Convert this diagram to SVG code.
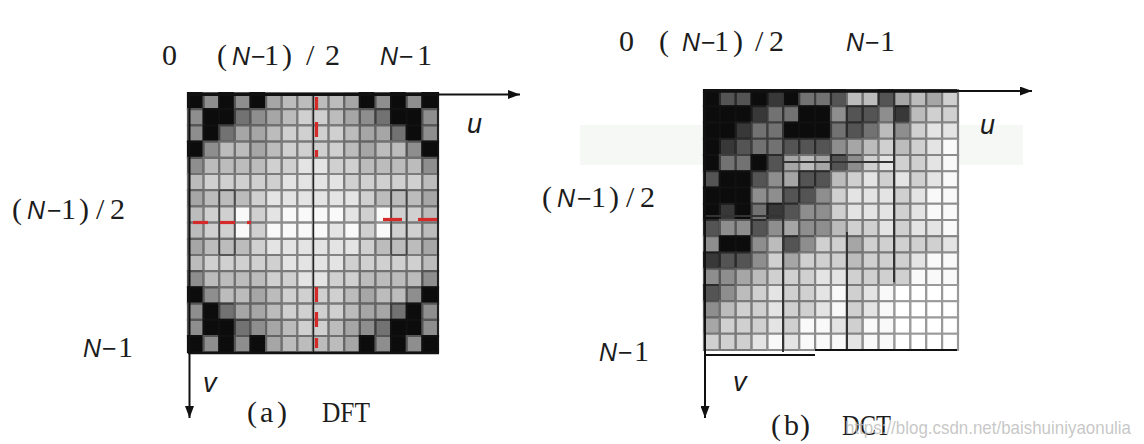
<svg xmlns="http://www.w3.org/2000/svg" width="1144" height="444" viewBox="0 0 1144 444">
<style>
text{font-family:"Liberation Serif","Times New Roman",serif;font-size:30px;fill:#1c1c1c}
.i{font-family:"Liberation Sans",Arial,sans-serif;font-style:italic;font-size:25px}
.s{font-family:"Liberation Sans",Arial,sans-serif;font-size:25px}
.cells rect{width:1px;height:1px;stroke-width:2.2px;vector-effect:non-scaling-stroke;stroke:#777}
.cells .k{fill:#0c0c0c;stroke:#111}
.cells .a{fill:#383838;stroke:#1c1c1c}
.cells .b{fill:#545454;stroke:#2a2a2a}
.cells .c{fill:#727272;stroke:#3e3e3e}
.cells .d{fill:#8e8e8e;stroke:#555}
.cells .e{fill:#a6a6a6;stroke:#646464}
.cells .f{fill:#bcbcbc;stroke:#707070}
.cells .g{fill:#d0d0d0;stroke:#7a7a7a}
.cells .h{fill:#e4e4e4;stroke:#858585}
.cells .w{fill:#f9f9f9;stroke:#8e8e8e}
.cells .z{fill:#fff;stroke:#9a9a9a}
.cells .o{fill:none;stroke:#333;stroke-width:1px}
.ax{stroke:#111;fill:none}
.red{stroke:#d42a2a;stroke-width:3.2}
.blk{stroke:#333;stroke-width:2}
.wm{font-family:"Liberation Sans",Arial,sans-serif;font-size:19px;fill:#bdbdbd;fill-opacity:0.85}
</style>
<defs>
<marker id="arr" markerUnits="userSpaceOnUse" markerWidth="12" markerHeight="9" refX="12" refY="4.5" orient="auto"><path d="M0,0 L12,4.5 L0,9 z" fill="#111"/></marker>
</defs>
<rect width="1144" height="444" fill="#fff"/>
<rect x="580" y="125" width="443" height="40" fill="#f5f8f5"/>

<g id="dft">
<g class="cells" transform="translate(188,93) scale(15.625,16.2)">
<g transform="translate(0,0)"><rect x="0" class="k"/><rect x="1" class="d"/><rect x="2" class="k"/><rect x="3" class="d"/><rect x="4" class="k"/><rect x="5" class="e"/><rect x="6" class="f"/><rect x="7" class="f"/><rect x="8" class="f"/><rect x="9" class="f"/><rect x="10" class="e"/><rect x="11" class="k"/><rect x="12" class="d"/><rect x="13" class="k"/><rect x="14" class="d"/><rect x="15" class="k"/></g>
<g transform="translate(0,1)"><rect x="0" class="d"/><rect x="1" class="k"/><rect x="2" class="k"/><rect x="3" class="c"/><rect x="4" class="d"/><rect x="5" class="e"/><rect x="6" class="f"/><rect x="7" class="g"/><rect x="8" class="g"/><rect x="9" class="f"/><rect x="10" class="e"/><rect x="11" class="d"/><rect x="12" class="c"/><rect x="13" class="k"/><rect x="14" class="k"/><rect x="15" class="d"/></g>
<g transform="translate(0,2)"><rect x="0" class="d"/><rect x="1" class="k"/><rect x="2" class="c"/><rect x="3" class="e"/><rect x="4" class="e"/><rect x="5" class="f"/><rect x="6" class="g"/><rect x="7" class="g"/><rect x="8" class="g"/><rect x="9" class="g"/><rect x="10" class="f"/><rect x="11" class="e"/><rect x="12" class="e"/><rect x="13" class="c"/><rect x="14" class="k"/><rect x="15" class="d"/></g>
<g transform="translate(0,3)"><rect x="0" class="k"/><rect x="1" class="d"/><rect x="2" class="f"/><rect x="3" class="f"/><rect x="4" class="e"/><rect x="5" class="f"/><rect x="6" class="g"/><rect x="7" class="g"/><rect x="8" class="g"/><rect x="9" class="g"/><rect x="10" class="f"/><rect x="11" class="e"/><rect x="12" class="f"/><rect x="13" class="f"/><rect x="14" class="d"/><rect x="15" class="k"/></g>
<g transform="translate(0,4)"><rect x="0" class="d"/><rect x="1" class="f"/><rect x="2" class="f"/><rect x="3" class="f"/><rect x="4" class="f"/><rect x="5" class="g"/><rect x="6" class="g"/><rect x="7" class="h"/><rect x="8" class="h"/><rect x="9" class="g"/><rect x="10" class="g"/><rect x="11" class="f"/><rect x="12" class="f"/><rect x="13" class="f"/><rect x="14" class="f"/><rect x="15" class="d"/></g>
<g transform="translate(0,5)"><rect x="0" class="f"/><rect x="1" class="g"/><rect x="2" class="g"/><rect x="3" class="g"/><rect x="4" class="g"/><rect x="5" class="g"/><rect x="6" class="h"/><rect x="7" class="h"/><rect x="8" class="h"/><rect x="9" class="h"/><rect x="10" class="g"/><rect x="11" class="g"/><rect x="12" class="g"/><rect x="13" class="g"/><rect x="14" class="g"/><rect x="15" class="f"/></g>
<g transform="translate(0,6)"><rect x="0" class="e"/><rect x="1" class="f"/><rect x="2" class="f"/><rect x="3" class="f"/><rect x="4" class="g"/><rect x="5" class="h"/><rect x="6" class="h"/><rect x="7" class="h"/><rect x="8" class="h"/><rect x="9" class="h"/><rect x="10" class="h"/><rect x="11" class="g"/><rect x="12" class="f"/><rect x="13" class="f"/><rect x="14" class="f"/><rect x="15" class="e"/></g>
<g transform="translate(0,7)"><rect x="0" class="f"/><rect x="1" class="g"/><rect x="2" class="g"/><rect x="3" class="w"/><rect x="4" class="g"/><rect x="5" class="h"/><rect x="6" class="w"/><rect x="7" class="w"/><rect x="8" class="w"/><rect x="9" class="w"/><rect x="10" class="h"/><rect x="11" class="g"/><rect x="12" class="w"/><rect x="13" class="g"/><rect x="14" class="g"/><rect x="15" class="f"/></g>
<g transform="translate(0,8)"><rect x="0" class="f"/><rect x="1" class="g"/><rect x="2" class="g"/><rect x="3" class="w"/><rect x="4" class="g"/><rect x="5" class="w"/><rect x="6" class="w"/><rect x="7" class="w"/><rect x="8" class="w"/><rect x="9" class="h"/><rect x="10" class="w"/><rect x="11" class="g"/><rect x="12" class="w"/><rect x="13" class="g"/><rect x="14" class="g"/><rect x="15" class="f"/></g>
<g transform="translate(0,9)"><rect x="0" class="e"/><rect x="1" class="f"/><rect x="2" class="f"/><rect x="3" class="f"/><rect x="4" class="g"/><rect x="5" class="h"/><rect x="6" class="h"/><rect x="7" class="h"/><rect x="8" class="h"/><rect x="9" class="h"/><rect x="10" class="h"/><rect x="11" class="g"/><rect x="12" class="f"/><rect x="13" class="f"/><rect x="14" class="f"/><rect x="15" class="e"/></g>
<g transform="translate(0,10)"><rect x="0" class="f"/><rect x="1" class="g"/><rect x="2" class="g"/><rect x="3" class="g"/><rect x="4" class="g"/><rect x="5" class="g"/><rect x="6" class="h"/><rect x="7" class="h"/><rect x="8" class="h"/><rect x="9" class="h"/><rect x="10" class="g"/><rect x="11" class="g"/><rect x="12" class="g"/><rect x="13" class="g"/><rect x="14" class="g"/><rect x="15" class="f"/></g>
<g transform="translate(0,11)"><rect x="0" class="d"/><rect x="1" class="f"/><rect x="2" class="f"/><rect x="3" class="f"/><rect x="4" class="f"/><rect x="5" class="g"/><rect x="6" class="g"/><rect x="7" class="h"/><rect x="8" class="h"/><rect x="9" class="g"/><rect x="10" class="g"/><rect x="11" class="f"/><rect x="12" class="f"/><rect x="13" class="f"/><rect x="14" class="f"/><rect x="15" class="d"/></g>
<g transform="translate(0,12)"><rect x="0" class="k"/><rect x="1" class="d"/><rect x="2" class="f"/><rect x="3" class="f"/><rect x="4" class="e"/><rect x="5" class="f"/><rect x="6" class="g"/><rect x="7" class="g"/><rect x="8" class="g"/><rect x="9" class="g"/><rect x="10" class="f"/><rect x="11" class="e"/><rect x="12" class="f"/><rect x="13" class="f"/><rect x="14" class="d"/><rect x="15" class="k"/></g>
<g transform="translate(0,13)"><rect x="0" class="d"/><rect x="1" class="k"/><rect x="2" class="c"/><rect x="3" class="e"/><rect x="4" class="e"/><rect x="5" class="f"/><rect x="6" class="g"/><rect x="7" class="g"/><rect x="8" class="g"/><rect x="9" class="g"/><rect x="10" class="f"/><rect x="11" class="e"/><rect x="12" class="e"/><rect x="13" class="c"/><rect x="14" class="k"/><rect x="15" class="d"/></g>
<g transform="translate(0,14)"><rect x="0" class="d"/><rect x="1" class="k"/><rect x="2" class="k"/><rect x="3" class="c"/><rect x="4" class="d"/><rect x="5" class="e"/><rect x="6" class="f"/><rect x="7" class="g"/><rect x="8" class="g"/><rect x="9" class="f"/><rect x="10" class="e"/><rect x="11" class="d"/><rect x="12" class="c"/><rect x="13" class="k"/><rect x="14" class="k"/><rect x="15" class="d"/></g>
<g transform="translate(0,15)"><rect x="0" class="k"/><rect x="1" class="d"/><rect x="2" class="k"/><rect x="3" class="d"/><rect x="4" class="k"/><rect x="5" class="e"/><rect x="6" class="f"/><rect x="7" class="f"/><rect x="8" class="f"/><rect x="9" class="f"/><rect x="10" class="e"/><rect x="11" class="k"/><rect x="12" class="d"/><rect x="13" class="k"/><rect x="14" class="d"/><rect x="15" class="k"/></g>
<rect x="2" y="6" class="o" style="width:1px;height:4px"/>
<rect x="13" y="6" class="o" style="width:1px;height:4px"/>
</g>
<line x1="313.5" y1="93" x2="313.5" y2="352" stroke="#222" stroke-width="1.3"/>
<g id="dft-red-dashes">
<line class="red" x1="316.5" y1="97" x2="316.5" y2="110"/>
<line class="red" x1="316.5" y1="122" x2="316.5" y2="137"/>
<line class="red" x1="316.5" y1="150" x2="316.5" y2="157"/>
<line class="red" x1="316.5" y1="287" x2="316.5" y2="302"/>
<line class="red" x1="316.5" y1="312" x2="316.5" y2="327"/>
<line class="red" x1="316.5" y1="338" x2="316.5" y2="348"/>
<line class="red" x1="193" y1="222.5" x2="208" y2="222.5"/>
<line class="red" x1="220" y1="222.5" x2="235" y2="222.5"/>
<line class="red" x1="247" y1="222.5" x2="251" y2="222.5"/>
<line class="red" x1="383" y1="219.5" x2="402" y2="219.5" stroke-width="4"/>
<line class="red" x1="418" y1="219.5" x2="438" y2="219.5" stroke-width="4"/>
</g>
<g id="dft-axes">
<line class="ax" x1="438" y1="93" x2="438" y2="353" stroke-width="1.5"/>
<line class="ax" x1="188" y1="353" x2="439" y2="353" stroke-width="2.5"/>
<line class="ax" x1="188" y1="94.5" x2="438" y2="94.5" stroke-width="3"/>
<line class="ax" x1="438" y1="94.5" x2="520" y2="94.5" stroke-width="1.8" marker-end="url(#arr)"/>
<line class="ax" x1="189.5" y1="93" x2="189.5" y2="418" stroke-width="2" marker-end="url(#arr)"/>
</g>
<g id="dft-labels">
<text x="162" y="65">0</text>
<text y="65"><tspan x="217">(</tspan><tspan x="232" class="i">N</tspan><tspan x="251" class="s">−</tspan><tspan x="264">1</tspan><tspan x="282">)</tspan><tspan x="306">/</tspan><tspan x="325">2</tspan></text>
<text y="65"><tspan x="380" class="i">N</tspan><tspan x="399" class="s">−</tspan><tspan x="417">1</tspan></text>
<text y="219"><tspan x="12">(</tspan><tspan x="27" class="i">N</tspan><tspan x="47" class="s">−</tspan><tspan x="61">1</tspan><tspan x="79">)</tspan><tspan x="96">/</tspan><tspan x="110">2</tspan></text>
<text y="357"><tspan x="83" class="i">N</tspan><tspan x="102" class="s">−</tspan><tspan x="118">1</tspan></text>
<text x="467" y="133" class="i" style="font-size:27px">u</text>
<text x="203" y="392" class="i" style="font-size:27px">v</text>
<text x="247 260 277" y="422">(a)</text>
<text x="322" y="422" textLength="48" lengthAdjust="spacingAndGlyphs">DFT</text>
</g>
</g>

<g id="dct">
<g class="cells" transform="translate(704,90) scale(15.875,16.25)">
<g transform="translate(0,0)"><rect x="0" class="k"/><rect x="1" class="b"/><rect x="2" class="b"/><rect x="3" class="k"/><rect x="4" class="a"/><rect x="5" class="k"/><rect x="6" class="c"/><rect x="7" class="c"/><rect x="8" class="b"/><rect x="9" class="f"/><rect x="10" class="f"/><rect x="11" class="b"/><rect x="12" class="e"/><rect x="13" class="f"/><rect x="14" class="e"/><rect x="15" class="g"/></g>
<g transform="translate(0,1)"><rect x="0" class="k"/><rect x="1" class="k"/><rect x="2" class="k"/><rect x="3" class="a"/><rect x="4" class="c"/><rect x="5" class="c"/><rect x="6" class="k"/><rect x="7" class="k"/><rect x="8" class="d"/><rect x="9" class="b"/><rect x="10" class="b"/><rect x="11" class="d"/><rect x="12" class="a"/><rect x="13" class="f"/><rect x="14" class="g"/><rect x="15" class="g"/></g>
<g transform="translate(0,2)"><rect x="0" class="k"/><rect x="1" class="k"/><rect x="2" class="a"/><rect x="3" class="c"/><rect x="4" class="c"/><rect x="5" class="k"/><rect x="6" class="k"/><rect x="7" class="k"/><rect x="8" class="c"/><rect x="9" class="b"/><rect x="10" class="c"/><rect x="11" class="f"/><rect x="12" class="d"/><rect x="13" class="g"/><rect x="14" class="h"/><rect x="15" class="h"/></g>
<g transform="translate(0,3)"><rect x="0" class="k"/><rect x="1" class="a"/><rect x="2" class="b"/><rect x="3" class="c"/><rect x="4" class="c"/><rect x="5" class="b"/><rect x="6" class="b"/><rect x="7" class="b"/><rect x="8" class="d"/><rect x="9" class="e"/><rect x="10" class="f"/><rect x="11" class="g"/><rect x="12" class="f"/><rect x="13" class="g"/><rect x="14" class="h"/><rect x="15" class="w"/></g>
<g transform="translate(0,4)"><rect x="0" class="k"/><rect x="1" class="c"/><rect x="2" class="c"/><rect x="3" class="k"/><rect x="4" class="b"/><rect x="5" class="e"/><rect x="6" class="f"/><rect x="7" class="e"/><rect x="8" class="b"/><rect x="9" class="d"/><rect x="10" class="g"/><rect x="11" class="h"/><rect x="12" class="g"/><rect x="13" class="g"/><rect x="14" class="h"/><rect x="15" class="w"/></g>
<g transform="translate(0,5)"><rect x="0" class="b"/><rect x="1" class="k"/><rect x="2" class="k"/><rect x="3" class="b"/><rect x="4" class="d"/><rect x="5" class="e"/><rect x="6" class="b"/><rect x="7" class="b"/><rect x="8" class="f"/><rect x="9" class="g"/><rect x="10" class="h"/><rect x="11" class="g"/><rect x="12" class="h"/><rect x="13" class="g"/><rect x="14" class="h"/><rect x="15" class="w"/></g>
<g transform="translate(0,6)"><rect x="0" class="k"/><rect x="1" class="k"/><rect x="2" class="k"/><rect x="3" class="d"/><rect x="4" class="d"/><rect x="5" class="b"/><rect x="6" class="b"/><rect x="7" class="d"/><rect x="8" class="g"/><rect x="9" class="h"/><rect x="10" class="h"/><rect x="11" class="h"/><rect x="12" class="g"/><rect x="13" class="h"/><rect x="14" class="w"/><rect x="15" class="w"/></g>
<g transform="translate(0,7)"><rect x="0" class="k"/><rect x="1" class="a"/><rect x="2" class="k"/><rect x="3" class="c"/><rect x="4" class="a"/><rect x="5" class="b"/><rect x="6" class="d"/><rect x="7" class="d"/><rect x="8" class="g"/><rect x="9" class="h"/><rect x="10" class="h"/><rect x="11" class="h"/><rect x="12" class="g"/><rect x="13" class="h"/><rect x="14" class="w"/><rect x="15" class="w"/></g>
<g transform="translate(0,8)"><rect x="0" class="b"/><rect x="1" class="d"/><rect x="2" class="d"/><rect x="3" class="b"/><rect x="4" class="d"/><rect x="5" class="e"/><rect x="6" class="d"/><rect x="7" class="d"/><rect x="8" class="f"/><rect x="9" class="g"/><rect x="10" class="g"/><rect x="11" class="h"/><rect x="12" class="g"/><rect x="13" class="h"/><rect x="14" class="h"/><rect x="15" class="w"/></g>
<g transform="translate(0,9)"><rect x="0" class="d"/><rect x="1" class="k"/><rect x="2" class="k"/><rect x="3" class="d"/><rect x="4" class="f"/><rect x="5" class="b"/><rect x="6" class="d"/><rect x="7" class="g"/><rect x="8" class="g"/><rect x="9" class="e"/><rect x="10" class="g"/><rect x="11" class="g"/><rect x="12" class="g"/><rect x="13" class="g"/><rect x="14" class="g"/><rect x="15" class="h"/></g>
<g transform="translate(0,10)"><rect x="0" class="a"/><rect x="1" class="b"/><rect x="2" class="b"/><rect x="3" class="d"/><rect x="4" class="g"/><rect x="5" class="e"/><rect x="6" class="g"/><rect x="7" class="g"/><rect x="8" class="g"/><rect x="9" class="f"/><rect x="10" class="g"/><rect x="11" class="g"/><rect x="12" class="g"/><rect x="13" class="h"/><rect x="14" class="w"/><rect x="15" class="w"/></g>
<g transform="translate(0,11)"><rect x="0" class="d"/><rect x="1" class="d"/><rect x="2" class="e"/><rect x="3" class="f"/><rect x="4" class="g"/><rect x="5" class="g"/><rect x="6" class="g"/><rect x="7" class="h"/><rect x="8" class="h"/><rect x="9" class="g"/><rect x="10" class="g"/><rect x="11" class="g"/><rect x="12" class="g"/><rect x="13" class="w"/><rect x="14" class="w"/><rect x="15" class="w"/></g>
<g transform="translate(0,12)"><rect x="0" class="b"/><rect x="1" class="d"/><rect x="2" class="f"/><rect x="3" class="g"/><rect x="4" class="h"/><rect x="5" class="g"/><rect x="6" class="g"/><rect x="7" class="h"/><rect x="8" class="w"/><rect x="9" class="g"/><rect x="10" class="h"/><rect x="11" class="w"/><rect x="12" class="z"/><rect x="13" class="z"/><rect x="14" class="z"/><rect x="15" class="z"/></g>
<g transform="translate(0,13)"><rect x="0" class="d"/><rect x="1" class="f"/><rect x="2" class="g"/><rect x="3" class="g"/><rect x="4" class="h"/><rect x="5" class="g"/><rect x="6" class="g"/><rect x="7" class="h"/><rect x="8" class="w"/><rect x="9" class="g"/><rect x="10" class="h"/><rect x="11" class="w"/><rect x="12" class="z"/><rect x="13" class="z"/><rect x="14" class="z"/><rect x="15" class="z"/></g>
<g transform="translate(0,14)"><rect x="0" class="e"/><rect x="1" class="g"/><rect x="2" class="g"/><rect x="3" class="g"/><rect x="4" class="h"/><rect x="5" class="g"/><rect x="6" class="w"/><rect x="7" class="w"/><rect x="8" class="h"/><rect x="9" class="g"/><rect x="10" class="w"/><rect x="11" class="w"/><rect x="12" class="z"/><rect x="13" class="z"/><rect x="14" class="z"/><rect x="15" class="z"/></g>
<g transform="translate(0,15)"><rect x="0" class="g"/><rect x="1" class="g"/><rect x="2" class="g"/><rect x="3" class="h"/><rect x="4" class="w"/><rect x="5" class="h"/><rect x="6" class="w"/><rect x="7" class="w"/><rect x="8" class="w"/><rect x="9" class="h"/><rect x="10" class="w"/><rect x="11" class="w"/><rect x="12" class="z"/><rect x="13" class="z"/><rect x="14" class="z"/><rect x="15" class="z"/></g>
</g>
<g id="dct-blocks">
<line class="blk" x1="783" y1="90" x2="783" y2="352"/>
<line class="blk" x1="847" y1="232" x2="847" y2="350"/>
<line class="blk" x1="894" y1="90" x2="894" y2="282"/>
<line class="blk" x1="704" y1="216" x2="783" y2="216"/>
<line class="blk" x1="783" y1="162" x2="894" y2="162"/>
</g>
<g id="dct-axes">
<line class="ax" x1="705" y1="355" x2="815" y2="355" stroke-width="2"/>
<line class="ax" x1="815" y1="350" x2="957" y2="350" stroke-width="2"/>
<line class="ax" x1="703" y1="91" x2="957" y2="91" stroke-width="3.5"/>
<line class="ax" x1="957" y1="91" x2="1032" y2="91" stroke-width="1.8" marker-end="url(#arr)"/>
<line class="ax" x1="705" y1="90" x2="705" y2="418" stroke-width="2" marker-end="url(#arr)"/>
</g>
<g id="dct-labels">
<text x="619" y="51">0</text>
<text y="51"><tspan x="659">(</tspan><tspan x="682" class="i">N</tspan><tspan x="701" class="s">−</tspan><tspan x="714">1</tspan><tspan x="733">)</tspan><tspan x="755">/</tspan><tspan x="769">2</tspan></text>
<text y="51"><tspan x="846" class="i">N</tspan><tspan x="865" class="s">−</tspan><tspan x="880">1</tspan></text>
<text y="207"><tspan x="542">(</tspan><tspan x="557" class="i">N</tspan><tspan x="577" class="s">−</tspan><tspan x="591">1</tspan><tspan x="609">)</tspan><tspan x="626">/</tspan><tspan x="640">2</tspan></text>
<text y="361"><tspan x="599" class="i">N</tspan><tspan x="618" class="s">−</tspan><tspan x="634">1</tspan></text>
<text x="980" y="134" class="i" style="font-size:27px">u</text>
<text x="733" y="391" class="i" style="font-size:27px">v</text>
<text x="771 784 800" y="435">(b)</text>
<text x="842" y="435" textLength="49" lengthAdjust="spacingAndGlyphs">DCT</text>
</g>
</g>
<text class="wm" x="845" y="434" textLength="286" lengthAdjust="spacingAndGlyphs">https://blog.csdn.net/baishuiniyaonulia</text>
</svg>
